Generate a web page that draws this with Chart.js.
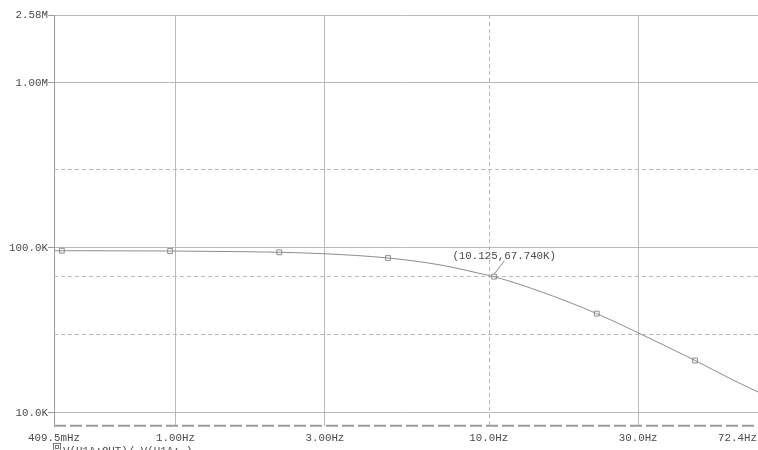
<!DOCTYPE html>
<html>
<head>
<meta charset="utf-8">
<script src="https://cdn.jsdelivr.net/npm/chart.js@4/dist/chart.umd.min.js"></script>
<style>
  html, body { margin: 0; padding: 0; background: #fff; }
  #wrap { width: 758px; height: 450px; position: relative; }
</style>
</head>
<body>
<div id="wrap"><canvas id="c"></canvas></div>
<script>
// Open-loop gain trace V(U1A:OUT)/V(U1A:-) versus frequency
const FREQ_HZ = [0.4095, 0.434, 0.7, 0.961, 1.5, 2.145, 3.0, 4.77, 7.0, 10.125, 10.4, 15.0, 22.13, 30.0, 45.56, 60.0, 72.4];
const GAIN    = [96.2e3, 96.2e3, 96.0e3, 95.8e3, 95.1e3, 94.1e3, 92.2e3, 86.9e3, 78.9e3, 67.74e3, 67.0e3, 53.5e3, 40.0e3, 30.6e3, 20.8e3, 15.9e3, 13.4e3];

// Trace symbols placed along the curve
const MARKER_FREQ = [0.434, 0.961, 2.145, 4.77, 10.4, 22.13, 45.56];
const MARKER_GAIN = [96.2e3, 95.8e3, 94.1e3, 86.9e3, 67.0e3, 40.0e3, 20.8e3];

// Axis ranges and labelled ticks
const X_RANGE = [0.4095, 72.4];
const Y_RANGE = [8370, 2.58e6];
const X_TICKS = [0.4095, 1, 3, 10, 30, 72.4];
const X_TICK_LABELS = ['409.5mHz', '1.00Hz', '3.00Hz', '10.0Hz', '30.0Hz', '72.4Hz'];
const Y_TICKS = [10e3, 100e3, 1e6, 2.58e6];
const Y_TICK_LABELS = ['10.0K', '100.0K', '1.00M', '2.58M'];
const Y_MINOR = [30e3, 300e3];

// Probe cursor
const CURSOR_FREQ = 10.125;
const CURSOR_GAIN = 67740;
const CURSOR_LABEL = '(10.125,67.740K)';

const TRACE_NAME = 'V(U1A:OUT)/ V(U1A:-)';

const FONT = '10.8px "Liberation Mono", "DejaVu Sans Mono", monospace';
const TEXT_COLOR = '#4a4a4a';
const GRID_COLOR = '#b9b9b9';
const AXIS_COLOR = '#9c9c9c';
const TRACE_COLOR = '#8c8c8c';

const curve = FREQ_HZ.map((f, i) => ({ x: f, y: GAIN[i] }));
const markers = MARKER_FREQ.map((f, i) => ({ x: f, y: MARKER_GAIN[i] }));

function dashedLine(ctx, x1, y1, x2, y2, dash, color, width) {
  ctx.save();
  ctx.beginPath();
  ctx.setLineDash(dash);
  ctx.strokeStyle = color;
  ctx.lineWidth = width;
  ctx.moveTo(x1, y1);
  ctx.lineTo(x2, y2);
  ctx.stroke();
  ctx.restore();
}

const probeOverlay = {
  id: 'probeOverlay',
  beforeDatasetsDraw(chart) {
    const { ctx, chartArea: a, scales: { x, y } } = chart;
    // minor horizontal grid
    Y_MINOR.forEach(v => {
      const py = Math.round(y.getPixelForValue(v)) + 0.5;
      dashedLine(ctx, a.left, py, a.right, py, [4, 3], GRID_COLOR, 1);
    });
    // cursor cross-hair
    const cx = Math.round(x.getPixelForValue(CURSOR_FREQ)) - 0.5;
    const cy = Math.round(y.getPixelForValue(CURSOR_GAIN)) + 0.5;
    dashedLine(ctx, a.left, cy, a.right, cy, [4, 3], GRID_COLOR, 1);
    dashedLine(ctx, cx, a.top, cx, a.bottom, [4, 3], GRID_COLOR, 1);
    // dashed bottom axis
    dashedLine(ctx, a.left, a.bottom, a.right, a.bottom, [12, 4], AXIS_COLOR, 2);
  },
  afterDraw(chart) {
    const { ctx, chartArea: a, scales: { x, y } } = chart;
    const W = chart.width;
    ctx.save();
    ctx.font = FONT;
    ctx.fillStyle = TEXT_COLOR;

    // y tick labels
    ctx.textAlign = 'right';
    ctx.textBaseline = 'middle';
    Y_TICKS.forEach((v, i) => {
      ctx.fillText(Y_TICK_LABELS[i], a.left - 6, y.getPixelForValue(v));
    });

    // x tick labels, kept inside the canvas
    ctx.textAlign = 'center';
    X_TICKS.forEach((v, i) => {
      const t = X_TICK_LABELS[i];
      const w = ctx.measureText(t).width;
      let px = x.getPixelForValue(v);
      if (px + w / 2 > W - 1) px = W - 1 - w / 2;
      ctx.fillText(t, px, a.bottom + 12.5);
    });

    // cursor readout with leader line
    const px = x.getPixelForValue(CURSOR_FREQ);
    const py = y.getPixelForValue(CURSOR_GAIN);
    ctx.strokeStyle = TRACE_COLOR;
    ctx.lineWidth = 1;
    ctx.beginPath();
    ctx.moveTo(px + 4, py - 2);
    ctx.lineTo(px + 14, py - 15);
    ctx.stroke();
    ctx.textAlign = 'left';
    ctx.textBaseline = 'alphabetic';
    ctx.fillText(CURSOR_LABEL, px - 38, py - 17);

    // trace legend
    const lx = 53, ly = 443;
    ctx.strokeStyle = '#777';
    ctx.strokeRect(lx + 0.5, ly + 0.5, 7, 7);
    ctx.strokeRect(lx + 2.5, ly + 2.5, 3, 3);
    ctx.fillText(TRACE_NAME, lx + 10, 453.5);
    ctx.restore();
  }
};

new Chart(document.getElementById('c'), {
  type: 'scatter',
  data: {
    datasets: [
      {
        data: curve,
        showLine: true,
        pointRadius: 0,
        borderColor: TRACE_COLOR,
        borderWidth: 1,
        cubicInterpolationMode: 'monotone'
      },
      {
        data: markers,
        showLine: false,
        pointStyle: 'rect',
        pointRadius: 3.4,
        borderColor: TRACE_COLOR,
        borderWidth: 1,
        backgroundColor: 'rgba(255,255,255,0)'
      }
    ]
  },
  options: {
    responsive: true,
    maintainAspectRatio: false,
    animation: false,
    layout: { autoPadding: false, padding: { top: 15, right: 0, left: 0, bottom: 0 } },
    plugins: { legend: { display: false }, tooltip: { enabled: false } },
    scales: {
      x: {
        type: 'logarithmic',
        min: X_RANGE[0],
        max: X_RANGE[1],
        afterBuildTicks: s => { s.ticks = X_TICKS.map(v => ({ value: v })); },
        afterFit: s => { s.height = 24.3; },
        ticks: { display: false },
        grid: {
          color: c => (c.tick && c.tick.value === 10 ? 'rgba(0,0,0,0)' : GRID_COLOR),
          lineWidth: 1,
          drawTicks: false
        },
        border: { display: false }
      },
      y: {
        type: 'logarithmic',
        min: Y_RANGE[0],
        max: Y_RANGE[1],
        afterBuildTicks: s => { s.ticks = Y_TICKS.map(v => ({ value: v })); },
        afterFit: s => { s.width = 54; },
        ticks: { display: false },
        grid: {
          color: GRID_COLOR,
          lineWidth: 1,
          drawTicks: true,
          tickLength: 6,
          tickColor: AXIS_COLOR
        },
        border: { display: true, color: AXIS_COLOR, width: 1 }
      }
    }
  },
  plugins: [probeOverlay]
});
</script>
</body>
</html>
